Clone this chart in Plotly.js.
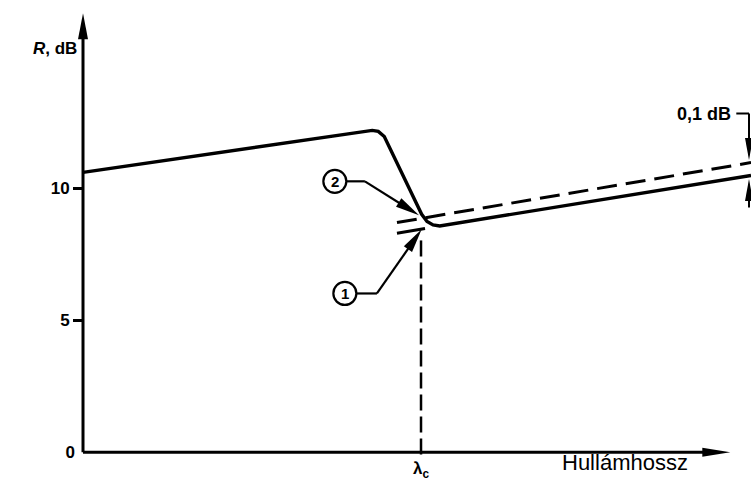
<!DOCTYPE html>
<html>
<head>
<meta charset="utf-8">
<script src="https://cdn.plot.ly/plotly-3.0.1.min.js"></script>
<style>
  html, body { margin: 0; padding: 0; background: #fff; }
  #chart { width: 751px; height: 484px; }
</style>
</head>
<body>
<div id="chart"></div>
<script>
// Reflection loss R (dB) versus wavelength, schematic around the cutoff wavelength λc
const wavelength = [0, 4.33, 4.42, 4.51, 5.07, 5.15, 5.24, 5.34, 10];
const reflection = [10.61, 12.20, 12.16, 11.97, 9.02, 8.75, 8.62, 8.58, 10.49];

// Curve 2 (dashed) and the short lead-in of curve 1 left of λc
const curve2X = [4.70, 10];
const curve2Y = [8.71, 10.98];
const curve1X = [4.70, 5.12];
const curve1Y = [8.30, 8.48];

// Cutoff wavelength marker
const lambdaC = 5.06;
const cutoffY = [8.03, -0.30];

const yTicks = [0, 5, 10];
const yTickText = ['0', '5', '10'];

const FONT = 'Liberation Sans, Arial, sans-serif';
const W = 751, H = 484;
const M = { l: 76, r: 0, t: 9, b: 0 };
const XR = [-0.105, 10];
const YR = [-1.2, 16.8];
const PX = (W - M.l - M.r) / (XR[1] - XR[0]);   // pixels per x unit
const PY = (H - M.t - M.b) / (YR[1] - YR[0]);   // pixels per y unit

const shapes = [];

function seg(x0, y0, x1, y1, w) {
  shapes.push({ type: 'line', xref: 'x', yref: 'y', x0: x0, y0: y0, x1: x1, y1: y1,
                line: { color: '#000', width: w || 2.5 } });
}

// filled narrow arrowhead, drawn in pixels around its tip
function arrow(fx, fy, tx, ty, len, hw, w) {
  const dx = (tx - fx) * PX, dy = (ty - fy) * PY;
  const n = Math.hypot(dx, dy), ux = dx / n, uy = dy / n;
  const bx = -ux * len, by = -uy * len;
  const p1 = [bx - uy * hw, by + ux * hw];
  const p2 = [bx + uy * hw, by - ux * hw];
  // shaft stops inside the head
  seg(fx, fy, tx - ux * len * 0.5 / PX, ty - uy * len * 0.5 / PY, w);
  shapes.push({
    type: 'path', xref: 'x', yref: 'y', xsizemode: 'pixel', ysizemode: 'pixel',
    xanchor: tx, yanchor: ty,
    path: 'M0,0 L' + p1[0].toFixed(2) + ',' + p1[1].toFixed(2) +
          ' L' + p2[0].toFixed(2) + ',' + p2[1].toFixed(2) + ' Z',
    fillcolor: '#000', line: { width: 0 }
  });
}

function ring(cx, cy, r) {
  shapes.push({ type: 'circle', xref: 'x', yref: 'y', xsizemode: 'pixel', ysizemode: 'pixel',
                xanchor: cx, yanchor: cy, x0: -r, x1: r, y0: -r, y1: r,
                line: { color: '#000', width: 2.2 } });
}

// axes with arrowheads
arrow(0, 0, 9.69, 0, 28, 4.5, 3);
arrow(0, 0, 0, 16.64, 26, 5, 3);

// callout 2
const c2 = [3.77, 10.27];
ring(c2[0], c2[1], 11.5);
seg(3.95, 10.27, 4.22, 10.27, 2.2);
arrow(4.22, 10.27, 5.03, 8.98, 24, 5, 2.2);

// callout 1
const c1 = [3.92, 6.02];
ring(c1[0], c1[1], 11.5);
seg(4.10, 6.02, 4.40, 6.02, 2.2);
arrow(4.40, 6.02, 5.07, 8.45, 24, 5, 2.2);

// 0,1 dB gap callout
seg(9.78, 12.84, 9.97, 12.84, 2);
arrow(9.97, 12.84, 9.97, 11.08, 22, 4, 2);
arrow(9.97, 9.28, 9.97, 10.36, 22, 4, 2);

const traces = [
  { x: wavelength, y: reflection, mode: 'lines', line: { color: '#000', width: 3.4 },
    hoverinfo: 'skip', showlegend: false },
  { x: curve2X, y: curve2Y, mode: 'lines', line: { color: '#000', width: 3, dash: '20px,9px' },
    hoverinfo: 'skip', showlegend: false },
  { x: curve1X, y: curve1Y, mode: 'lines', line: { color: '#000', width: 3 },
    hoverinfo: 'skip', showlegend: false },
  { x: [lambdaC, lambdaC], y: cutoffY, mode: 'lines', line: { color: '#000', width: 2.5, dash: '16px,6px' },
    hoverinfo: 'skip', showlegend: false },
  // empty trace that keeps the origin-label axis in the plot
  { x: [], y: [], yaxis: 'y2', mode: 'lines', hoverinfo: 'skip', showlegend: false }
];

const bold = (size) => ({ family: FONT, size: size, color: '#000', weight: 'bold' });

// y-axis caption sits left of the plot area, so it is placed in paper units
const captionX = (31 - M.l) / (W - M.l - M.r);
const axisPos = (83 - M.l) / (W - M.l - M.r);

const annotations = [
  { x: captionX, y: 15.30, xref: 'paper', yref: 'y', text: '<i>R</i>, dB', showarrow: false, font: bold(17) },
  { x: c2[0], y: c2[1], xref: 'x', yref: 'y', text: '2', showarrow: false, font: bold(15) },
  { x: c1[0], y: c1[1], xref: 'x', yref: 'y', text: '1', showarrow: false, font: bold(15) },
  { x: 9.30, y: 12.84, xref: 'x', yref: 'y', text: '0,1 dB', showarrow: false, font: bold(18) },
  { x: lambdaC, y: -0.68, xref: 'x', yref: 'y', text: 'λ<sub>c</sub>', showarrow: false, font: bold(17) },
  { x: 8.11, y: -0.38, xref: 'x', yref: 'y', text: 'Hullámhossz', showarrow: false,
    font: { family: FONT, size: 22, color: '#000' } }
];

// ticked labels (5, 10) and the origin label (0, no tick mark) on two overlaid axes
const tickedVals = yTicks.filter(v => v !== 0);
const tickedText = yTickText.filter((t, i) => yTicks[i] !== 0);

const layout = {
  width: W, height: H,
  margin: M,
  paper_bgcolor: '#fff', plot_bgcolor: '#fff',
  showlegend: false,
  xaxis: { range: XR, visible: false, fixedrange: true },
  yaxis: {
    range: YR, anchor: 'free', position: axisPos,
    tickvals: tickedVals, ticktext: tickedText,
    ticks: 'outside', ticklen: 10, tickwidth: 2.5, tickcolor: '#000',
    tickfont: bold(17),
    showgrid: false, zeroline: false, showline: false, fixedrange: true
  },
  yaxis2: {
    range: YR, overlaying: 'y', anchor: 'free', position: axisPos, side: 'left',
    tickvals: [yTicks[0]], ticktext: [yTickText[0]],
    ticks: '', ticklabelstandoff: 8, tickfont: bold(17),
    showgrid: false, zeroline: false, showline: false, fixedrange: true
  },
  shapes: shapes,
  annotations: annotations
};

Plotly.newPlot('chart', traces, layout, { staticPlot: true, displayModeBar: false });
</script>
</body>
</html>
